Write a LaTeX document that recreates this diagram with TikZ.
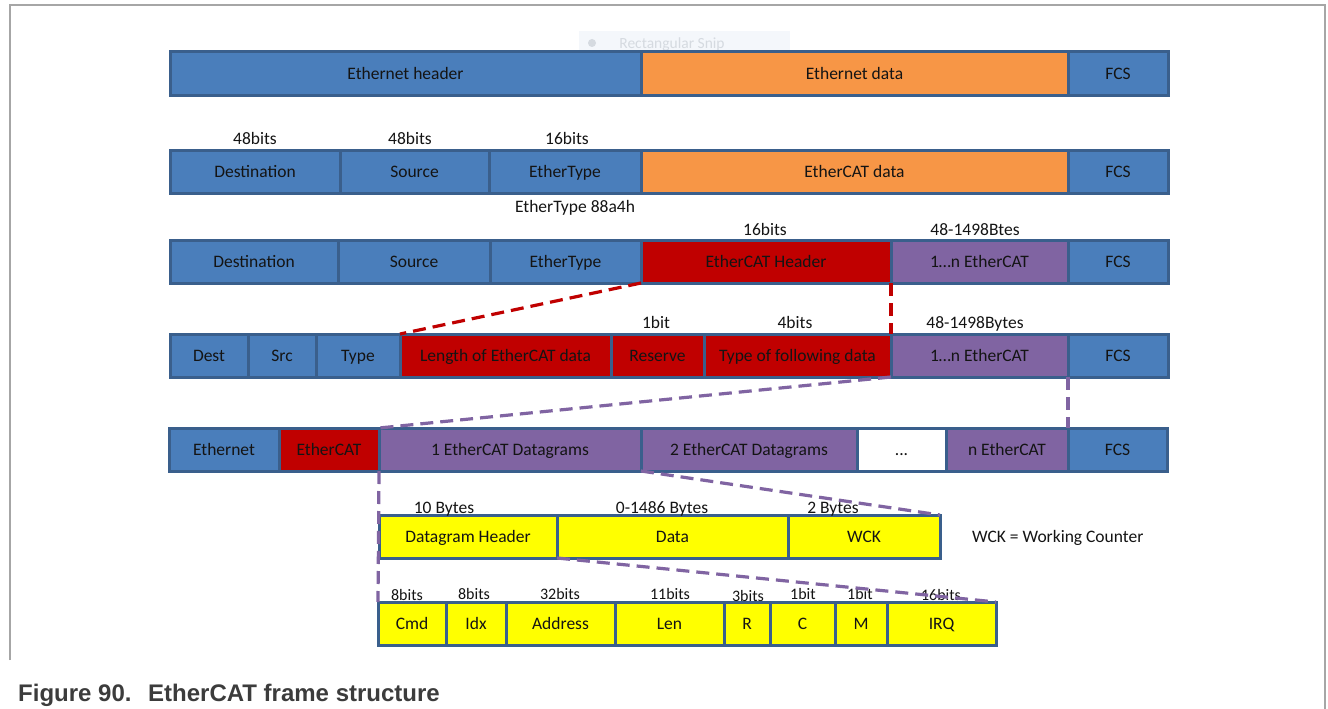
\documentclass[tikz,border=0pt]{standalone}
\usepackage{fontspec}
\setmainfont{Carlito}
\newfontfamily\capfont{Liberation Sans}
\pgfdeclarelayer{background}
\pgfsetlayers{background,main}
\definecolor{cblue}{HTML}{4A7EBB}
\definecolor{cborder}{HTML}{3A5F8C}
\definecolor{corange}{HTML}{F79646}
\definecolor{cred}{HTML}{C00000}
\definecolor{cpurple}{HTML}{8064A2}
\definecolor{cyellow}{HTML}{FFFF00}
\definecolor{cgreen}{HTML}{A9C47F}
\definecolor{ctext}{HTML}{141414}
\definecolor{cframe}{HTML}{A6A6A6}
\definecolor{ccap}{HTML}{3C3C3C}
\definecolor{snipbg}{HTML}{F4F7FB}
\definecolor{sniptx}{HTML}{D5DAE0}
\begin{document}
\begin{tikzpicture}[x=1pt,y=-1pt,
  cell/.style={draw=cborder, line width=3pt, anchor=north west, outer sep=0pt,
    minimum height=43pt, inner sep=0pt, text=ctext, text height=13pt, text depth=1pt,
    font=\fontsize{17.5}{19}\selectfont},
  bl/.style={cell, fill=cblue},
  orng/.style={cell, fill=corange},
  rd/.style={cell, fill=cred},
  pu/.style={cell, fill=cpurple},
  ye/.style={cell, fill=cyellow},
  wh/.style={cell, fill=white},
  lbl/.style={inner sep=0pt, text=ctext, text height=13pt, text depth=1pt,
    font=\fontsize{17.5}{19}\selectfont},
  slbl/.style={lbl, font=\fontsize{16}{18}\selectfont},
  reddash/.style={draw=cred, line width=3.2pt, dash pattern=on 13pt off 7pt},
  purdash/.style={draw=cpurple, line width=3.2pt, dash pattern=on 13pt off 7pt},
  grdash/.style={draw=cgreen, line width=1pt, dash pattern=on 4pt off 3pt},
  captext/.style={anchor=base west, inner sep=0pt, text=ccap, font=\capfont\bfseries\fontsize{24}{27}\selectfont},
]
\useasboundingbox (0,0) rectangle (1328,709);
\fill[white] (0,0) rectangle (1328,709);

% frame
\draw[cframe, line width=1.2pt] (10,660) -- (10,5) -- (1325,5) -- (1325,709);

% faint snip artifact
\fill[snipbg] (579,31) rectangle (790,54);
\fill[sniptx] (592,43) circle (4);
\node[text=sniptx, inner sep=0pt, font=\fontsize{15.5}{17}\selectfont] (snip) at (672,44) {Rectangular Snip};

% Row 1
\node[bl, minimum width=471pt] (r1eh) at (170,52) {Ethernet header};
\node[orng, minimum width=427pt] (r1ed) at (641,52) {Ethernet data};
\node[bl, minimum width=100pt] (r1fcs) at (1068,52) {FCS};

% Row 2
\node[bl, minimum width=170pt] (r2dst) at (170,150) {Destination};
\node[bl, minimum width=149pt] (r2src) at (340,150) {Source};
\node[bl, minimum width=152pt] (r2typ) at (489,150) {EtherType};
\node[orng, minimum width=427pt] (r2dat) at (641,150) {EtherCAT data};
\node[bl, minimum width=100pt] (r2fcs) at (1068,150) {FCS};

% Row 3
\node[bl, minimum width=168pt] (r3dst) at (170,240) {Destination};
\node[bl, minimum width=152pt] (r3src) at (338,240) {Source};
\node[bl, minimum width=151pt] (r3typ) at (490,240) {EtherType};
\node[rd, minimum width=250pt] (r3hdr) at (641,240) {EtherCAT Header};
\node[pu, minimum width=177pt] (r3n) at (891,240) {1…n EtherCAT};
\node[bl, minimum width=100pt] (r3fcs) at (1068,240) {FCS};

% Row 4
\node[bl, minimum width=78pt] (r4dst) at (170,334) {Dest};
\node[bl, minimum width=68pt] (r4src) at (248,334) {Src};
\node[bl, minimum width=84pt] (r4typ) at (316,334) {Type};
\node[rd, minimum width=211pt] (r4len) at (400,334) {Length of EtherCAT data};
\node[rd, minimum width=93pt] (r4res) at (611,334) {Reserve};
\node[rd, minimum width=187pt] (r4tfd) at (704,334) {Type of following data};
\node[pu, minimum width=177pt] (r4n) at (891,334) {1…n EtherCAT};
\node[bl, minimum width=100pt] (r4fcs) at (1068,334) {FCS};

% Row 5
\node[bl, minimum width=110pt] (r5eth) at (169,428) {Ethernet};
\node[rd, minimum width=100pt] (r5ecat) at (279,428) {EtherCAT};
\node[pu, minimum width=262pt] (r5d1) at (379,428) {1 EtherCAT Datagrams};
\node[pu, minimum width=216pt] (r5d2) at (641,428) {2 EtherCAT Datagrams};
\node[wh, minimum width=89pt] (r5dots) at (857,428) {...};
\node[pu, minimum width=122pt] (r5n) at (946,428) {n EtherCAT};
\node[bl, minimum width=99pt] (r5fcs) at (1068,428) {FCS};

% Row 6
\node[ye, minimum width=178pt] (r6hdr) at (379,515) {Datagram Header};
\node[ye, minimum width=231pt] (r6dat) at (557,515) {Data};
\node[ye, minimum width=152pt] (r6wck) at (788,515) {WCK};

% Row 7
\node[ye, minimum width=68pt] (r7cmd) at (378,602) {Cmd};
\node[ye, minimum width=60pt] (r7idx) at (446,602) {Idx};
\node[ye, minimum width=109pt] (r7adr) at (506,602) {Address};
\node[ye, minimum width=109pt] (r7len) at (615,602) {Len};
\node[ye, minimum width=46pt] (r7r) at (724,602) {R};
\node[ye, minimum width=65pt] (r7c) at (770,602) {C};
\node[ye, minimum width=52pt] (r7m) at (835,602) {M};
\node[ye, minimum width=109pt] (r7irq) at (887,602) {IRQ};

% labels
\node[lbl] (l2a) at (255,138) {48bits};
\node[lbl] (l2b) at (410,138) {48bits};
\node[lbl] (l2c) at (567,138) {16bits};
\node[lbl] (l3t) at (575,206) {EtherType 88a4h};
\node[lbl] (l3a) at (765,229) {16bits};
\node[lbl] (l3b) at (975,229) {48-1498Btes};
\node[lbl] (l4a) at (656,322) {1bit};
\node[lbl] (l4b) at (795,322) {4bits};
\node[lbl] (l4c) at (975,322) {48-1498Bytes};
\node[lbl] (l6a) at (444,507) {10 Bytes};
\node[lbl] (l6b) at (662,507) {0-1486 Bytes};
\node[lbl] (l6c) at (833,507) {2 Bytes};
\node[lbl, anchor=west] (wck) at (972,536) {WCK = Working Counter};
\node[slbl] (l7a) at (407,594) {8bits};
\node[slbl] (l7b) at (474,593) {8bits};
\node[slbl] (l7c) at (560,593) {32bits};
\node[slbl] (l7d) at (670,593) {11bits};
\node[slbl] (l7e) at (748,595) {3bits};
\node[slbl] (l7f) at (803,593) {1bit};
\node[slbl] (l7g) at (860,593) {1bit};
\node[slbl] (l7h) at (941,594) {16bits};

% green guide lines (behind)
\begin{pgfonlayer}{background}
\draw[grdash] (r1eh.south west) -- (r5eth.north west);
\draw[grdash] (r1ed.south west) -- (r3hdr.north west);
\draw[grdash] (r1fcs.south west) -- (r4fcs.north west);
\draw[grdash] (r1fcs.south east) -- (r5fcs.south east);
\end{pgfonlayer}

% red zoom lines
\draw[reddash] (r3hdr.south west) -- (r4len.north west);
\draw[reddash] (r3hdr.south east) -- (r4tfd.north east);

% purple zoom lines
\draw[purdash] (r4n.south west) -- (r5d1.north west);
\draw[purdash] (r4n.south east) -- (r5fcs.north west);
\draw[purdash] (r5d1.south west) -- (r7cmd.north west);
\draw[purdash] (r5d2.south west) -- (r6wck.north east);
\draw[purdash] (r6hdr.south east) -- (r7irq.north east);

% caption
\node[captext] (capa) at (18,701) {Figure 90.};
\node[captext] (capb) at (148,701) {EtherCAT frame structure};
\end{tikzpicture}
\end{document}
